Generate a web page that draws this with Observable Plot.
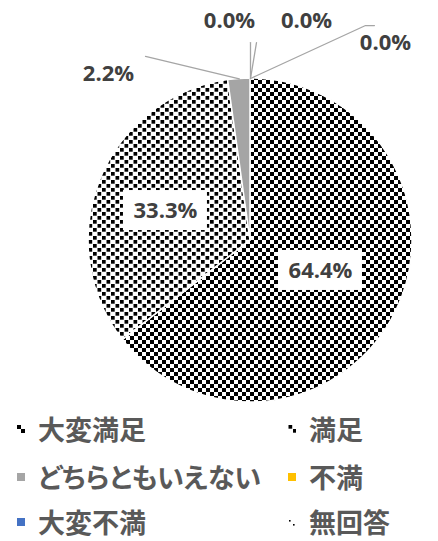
<!DOCTYPE html>
<html><head><meta charset="utf-8">
<script src="https://cdn.jsdelivr.net/npm/d3@7"></script>
<script src="https://cdn.jsdelivr.net/npm/@observablehq/plot@0.6"></script>
<style>
body{margin:0;background:#fff;}
#chart{width:438px;height:541px;position:relative;}
.legend{position:absolute;left:0;top:410px;width:438px;font-family:"Noto Sans CJK JP","Noto Sans",sans-serif;font-weight:bold;font-size:27px;color:#595959;font-feature-settings:"palt";}
.item{position:absolute;display:flex;align-items:center;height:24px;line-height:24px;white-space:nowrap;}
.item svg{margin-right:13px;flex:none;}
</style></head><body><div id="chart"></div>
<script>
// ---- data ----
const categories = ["大変満足", "満足", "どちらともいえない", "不満", "大変不満", "無回答"];
const values = [64.4, 33.3, 2.2, 0.0, 0.0, 0.0];
const labelTexts = values.map(v => v.toFixed(1) + "%");

// ---- styling / layout (not data) ----
const fills = ["url(#pat-vs)", "url(#pat-s)", "#A5A5A5", "#FFC000", "#4472C4", "url(#pat-na)"];
const labelPos = [[0.432, -0.185], [-0.525, 0.185], [-0.877, 1.031], [-0.13, 1.358], [0.346, 1.358], [0.833, 1.222]];
const leaderStarts = {2: [[-0.648, 1.136]], 3: [[0, 1.222]], 4: [[0.037, 1.222]], 5: [[0.765, 1.327], [0.71, 1.327]]};
const boxed = [0, 1];

const data = categories.map((c, i) => ({category: c, value: values[i], label: labelTexts[i], fill: fills[i], i}));
const arcs = d3.pie().sort(null).value(d => d.value)(data);

const labels = data.map((d, i) => ({text: d.label, x: labelPos[i][0], y: labelPos[i][1], i}));
const leaders = [];
for (const k of Object.keys(leaderStarts)) {
  const i = +k;
  const a = (arcs[i].startAngle + arcs[i].endAngle) / 2;
  leaderStarts[k].forEach(p => leaders.push({x: p[0], y: p[1], z: i}));
  leaders.push({x: Math.sin(a), y: Math.cos(a), z: i});
}

const xDomain = [-1, 1], xRange = [88, 412];
const yDomain = [-1, 1], yRange = [402, 78];
const fx = d3.scaleLinear(xDomain, xRange), fy = d3.scaleLinear(yDomain, yRange);

function defsMark() {
  const svg = d3.create("svg:defs");
  const p1 = svg.append("pattern").attr("id", "pat-vs").attr("patternUnits", "userSpaceOnUse").attr("width", 8).attr("height", 8);
  p1.append("rect").attr("width", 8).attr("height", 8).attr("fill", "#fff");
  p1.append("rect").attr("x", 0).attr("y", 0).attr("width", 4).attr("height", 4).attr("fill", "#000");
  p1.append("rect").attr("x", 4).attr("y", 4).attr("width", 4).attr("height", 4).attr("fill", "#000");
  const p2 = svg.append("pattern").attr("id", "pat-s").attr("patternUnits", "userSpaceOnUse").attr("width", 9).attr("height", 8);
  p2.append("rect").attr("width", 9).attr("height", 8).attr("fill", "#fff");
  p2.append("rect").attr("x", 0.5).attr("y", 0).attr("width", 3.7).attr("height", 3.7).attr("fill", "#000");
  p2.append("rect").attr("x", 5).attr("y", 4).attr("width", 3.7).attr("height", 3.7).attr("fill", "#000");
  const p3 = svg.append("pattern").attr("id", "pat-na").attr("patternUnits", "userSpaceOnUse").attr("width", 8).attr("height", 8);
  p3.append("rect").attr("width", 8).attr("height", 8).attr("fill", "#fff");
  p3.append("rect").attr("x", 1).attr("y", 2).attr("width", 1.6).attr("height", 1.6).attr("fill", "#000");
  p3.append("rect").attr("x", 5).attr("y", 6).attr("width", 1.6).attr("height", 1.6).attr("fill", "#000");
  return svg.node();
}

function pieMark(index, scales) {
  const sx = (scales && typeof scales.x === "function") ? scales.x : fx;
  const sy = (scales && typeof scales.y === "function") ? scales.y : fy;
  const cx = sx(0), cy = sy(0), r = sx(1) - sx(0);
  const g = d3.create("svg:g").attr("transform", `translate(${cx},${cy})`);
  const arc = d3.arc().innerRadius(0).outerRadius(r);
  g.selectAll("path").data(arcs.filter(d => d.value > 0)).join("path")
    .attr("d", arc).attr("fill", d => d.data.fill)
    .attr("stroke", "#fff").attr("stroke-width", 1.5).attr("stroke-linejoin", "round");
  return g.node();
}

function boxMark(index, scales) {
  const sx = (scales && typeof scales.x === "function") ? scales.x : fx;
  const sy = (scales && typeof scales.y === "function") ? scales.y : fy;
  const g = d3.create("svg:g");
  boxed.forEach(i => {
    g.append("rect").attr("x", sx(labels[i].x) - 42).attr("y", sy(labels[i].y) - 20)
      .attr("width", 84).attr("height", 40).attr("fill", "#fff");
  });
  return g.node();
}

const plot = Plot.plot({
  width: 438, height: 410, margin: 0,
  style: {background: "transparent", overflow: "visible"},
  x: {domain: xDomain, range: xRange, axis: null},
  y: {domain: yDomain, range: yRange, axis: null},
  marks: [
    defsMark,
    pieMark,
    boxMark,
    Plot.line(leaders, {x: "x", y: "y", z: "z", stroke: "#A5A5A5", strokeWidth: 1.3, curve: "linear"}),
    Plot.text(labels, {x: "x", y: "y", text: "text", fontFamily: "'Open Sans', 'Noto Sans', sans-serif", fontWeight: 700, fontSize: 22, fill: "#404040"})
  ]
});

const chart = document.getElementById("chart");
chart.appendChild(plot);

const legend = document.createElement("div");
legend.className = "legend";
const legendPos = [[17, 7], [288, 7], [17, 55], [288, 55], [17, 100], [288, 100]];
categories.forEach((c, i) => {
  const item = document.createElement("div");
  item.className = "item";
  item.style.left = legendPos[i][0] + "px";
  item.style.top = legendPos[i][1] + "px";
  item.innerHTML = `<svg width="8" height="8" style="display:block"><rect width="8" height="8" fill="${fills[i]}"/></svg><span>${c}</span>`;
  legend.appendChild(item);
});
chart.appendChild(legend);
</script>
</body></html>
